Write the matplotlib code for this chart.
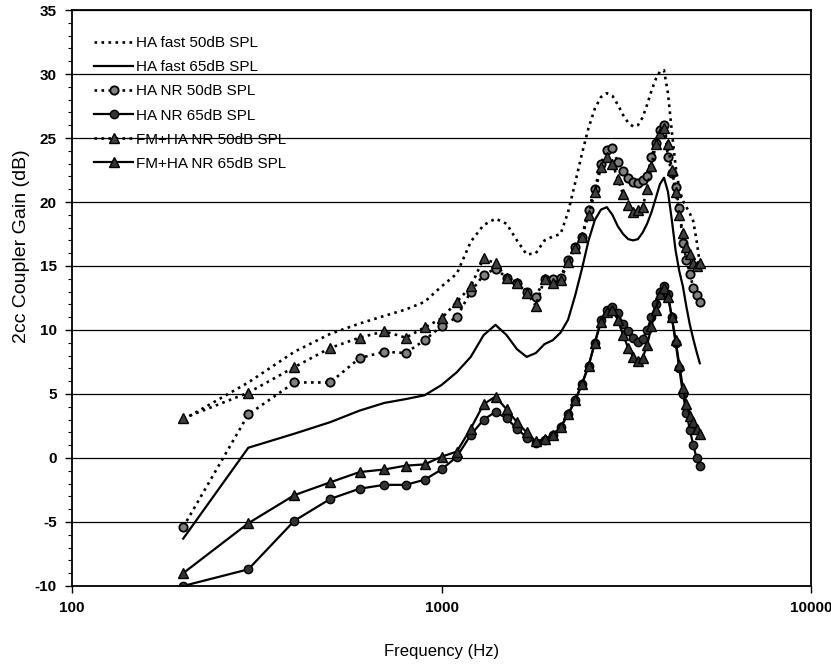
import matplotlib
matplotlib.use("Agg")
import matplotlib.pyplot as plt
from matplotlib.ticker import MultipleLocator, FixedLocator, NullLocator

plt.rcParams['font.family'] = ['Liberation Sans', 'DejaVu Sans']
plt.rcParams['axes.unicode_minus'] = False

# frequency grid (Hz)
freq = [200, 300, 400, 500, 600, 700, 800, 900, 1000,
        1100, 1200, 1300, 1400, 1500, 1600, 1700, 1800, 1900, 2000,
        2100, 2200, 2300, 2400, 2500, 2600, 2700, 2800, 2900, 3000,
        3100, 3200, 3300, 3400, 3500, 3600, 3700, 3800, 3900, 4000,
        4100, 4200, 4300, 4400, 4500, 4600, 4700, 4800, 4900, 5000]

ha_fast_50 = [3.0, 5.9, 8.3, 9.7, 10.5, 11.1, 11.6, 12.2, 13.4,
              14.4, 16.9, 18.2, 18.7, 18.3, 17.0, 15.9, 16.0, 17.0, 17.3,
              17.5, 19.2, 21.5, 23.8, 25.8, 27.3, 28.2, 28.5, 28.3, 27.6,
              26.8, 26.2, 25.9, 26.0, 26.6, 27.6, 28.7, 29.6, 30.2, 30.3,
              28.5, 25.5, 22.8, 21.0, 20.1, 19.6, 19.1, 18.5, 17.0, 15.2]

ha_fast_65 = [-6.3, 0.8, 1.9, 2.8, 3.7, 4.3, 4.6, 4.9, 5.7,
              6.7, 7.9, 9.6, 10.4, 9.6, 8.5, 7.9, 8.2, 8.9, 9.2,
              9.8, 10.8, 12.7, 14.8, 17.0, 18.6, 19.4, 19.6, 19.0, 18.1,
              17.5, 17.1, 17.0, 17.1, 17.6, 18.3, 19.2, 20.3, 21.4, 21.9,
              20.8, 18.6, 16.2, 14.6, 13.4, 11.8, 10.4, 9.3, 8.3, 7.4]

ha_nr_50 = [-5.4, 3.4, 5.9, 5.9, 7.8, 8.3, 8.2, 9.2, 10.3,
            11.0, 13.0, 14.3, 14.8, 14.1, 13.7, 13.0, 12.6, 14.0, 14.0,
            14.1, 15.5, 16.5, 17.3, 19.4, 21.0, 23.0, 24.1, 24.2, 23.1,
            22.4, 21.9, 21.6, 21.5, 21.7, 22.0, 23.5, 24.6, 25.6, 26.0,
            23.5, 22.3, 21.2, 19.5, 16.8, 15.5, 14.4, 13.3, 12.7, 12.2]

ha_nr_65 = [-10.0, -8.7, -4.9, -3.2, -2.4, -2.1, -2.1, -1.7, -0.9,
            0.1, 1.8, 3.0, 3.6, 3.1, 2.3, 1.6, 1.2, 1.4, 1.8,
            2.4, 3.4, 4.5, 5.8, 7.2, 9.0, 10.8, 11.6, 11.8, 11.3,
            10.5, 9.9, 9.4, 9.1, 9.3, 10.0, 11.0, 12.0, 13.0, 13.4,
            12.8, 11.0, 9.0, 7.0, 5.0, 3.5, 2.2, 1.0, 0.0, -0.6]

fm_nr_50 = [3.1, 5.1, 7.1, 8.6, 9.4, 9.9, 9.4, 10.2, 10.9,
            12.2, 13.4, 15.6, 15.2, 14.1, 13.7, 12.9, 11.9, 14.0, 13.7,
            13.9, 15.3, 16.4, 17.3, 19.0, 20.8, 22.7, 23.5, 23.0, 21.8,
            20.6, 19.8, 19.2, 19.4, 19.6, 21.0, 22.8, 24.5, 25.4, 25.8,
            24.5, 22.5, 20.8, 19.0, 17.6, 16.5, 15.9, 15.2, 15.0, 15.2]

fm_nr_65 = [-9.0, -5.1, -2.9, -1.9, -1.1, -0.9, -0.6, -0.5, 0.1,
            0.5, 2.3, 4.2, 4.8, 3.8, 2.8, 2.0, 1.3, 1.5, 1.8,
            2.4, 3.4, 4.5, 5.8, 7.2, 9.0, 10.6, 11.4, 11.6, 10.8,
            9.6, 8.6, 7.9, 7.6, 7.8, 8.8, 10.3, 11.6, 12.8, 13.3,
            12.6, 11.0, 9.2, 7.3, 5.5, 4.2, 3.3, 2.8, 2.3, 1.9]

fig = plt.figure(figsize=(8.31, 6.68), dpi=100)
ax = fig.add_axes([0.0866, 0.1228, 0.8894, 0.8622])

ax.plot(freq, ha_fast_50, color='black', linestyle=':', linewidth=1.9, label='HA fast 50dB SPL')
ax.plot(freq, ha_fast_65, color='black', linestyle='-', linewidth=1.6, label='HA fast 65dB SPL')
ax.plot(freq, ha_nr_50, color='black', linestyle=':', linewidth=1.9, marker='o', markersize=6,
        markerfacecolor='0.5', markeredgecolor='black', markeredgewidth=1.3, label='HA NR 50dB SPL')
ax.plot(freq, ha_nr_65, color='black', linestyle='-', linewidth=1.6, marker='o', markersize=6,
        markerfacecolor='0.2', markeredgecolor='black', label='HA NR 65dB SPL')
ax.plot(freq, fm_nr_50, color='black', linestyle=':', linewidth=1.9, marker='^', markersize=6.5,
        markerfacecolor='0.25', markeredgecolor='black', label='FM+HA NR 50dB SPL')
ax.plot(freq, fm_nr_65, color='black', linestyle='-', linewidth=1.6, marker='^', markersize=6.5,
        markerfacecolor='0.2', markeredgecolor='black', label='FM+HA NR 65dB SPL')

ax.set_xscale('log')
ax.set_xlim(100, 10000)
ax.set_ylim(-10, 35)
ax.xaxis.set_major_locator(FixedLocator([100, 1000, 10000]))
ax.xaxis.set_minor_locator(NullLocator())
ax.set_xticklabels(['100', '1000', '10000'])
ax.yaxis.set_major_locator(MultipleLocator(5))
ax.yaxis.set_minor_locator(MultipleLocator(1))
ax.tick_params(axis='both', which='major', direction='out', length=5, width=1,
               labelsize=11, pad=6)
ax.tick_params(axis='y', which='minor', direction='out', length=3, width=0.8)
for lab in ax.get_xticklabels() + ax.get_yticklabels():
    lab.set_fontweight('bold')

ax.grid(axis='y', which='major', color='black', linewidth=0.9)
for sp in ax.spines.values():
    sp.set_linewidth(1.3)

ax.set_xlabel('Frequency (Hz)', fontsize=12, labelpad=21)
ax.set_ylabel('2cc Coupler Gain (dB)', fontsize=14)
ax.yaxis.set_label_coords(-0.057, 0.59)

leg = ax.legend(loc='upper left', bbox_to_anchor=(0.016, 0.973), frameon=False,
                fontsize=11, handlelength=2.5, handletextpad=0.25, labelspacing=0.66,
                borderaxespad=0.3)

fig.savefig('out.png', dpi=100, facecolor='white')
